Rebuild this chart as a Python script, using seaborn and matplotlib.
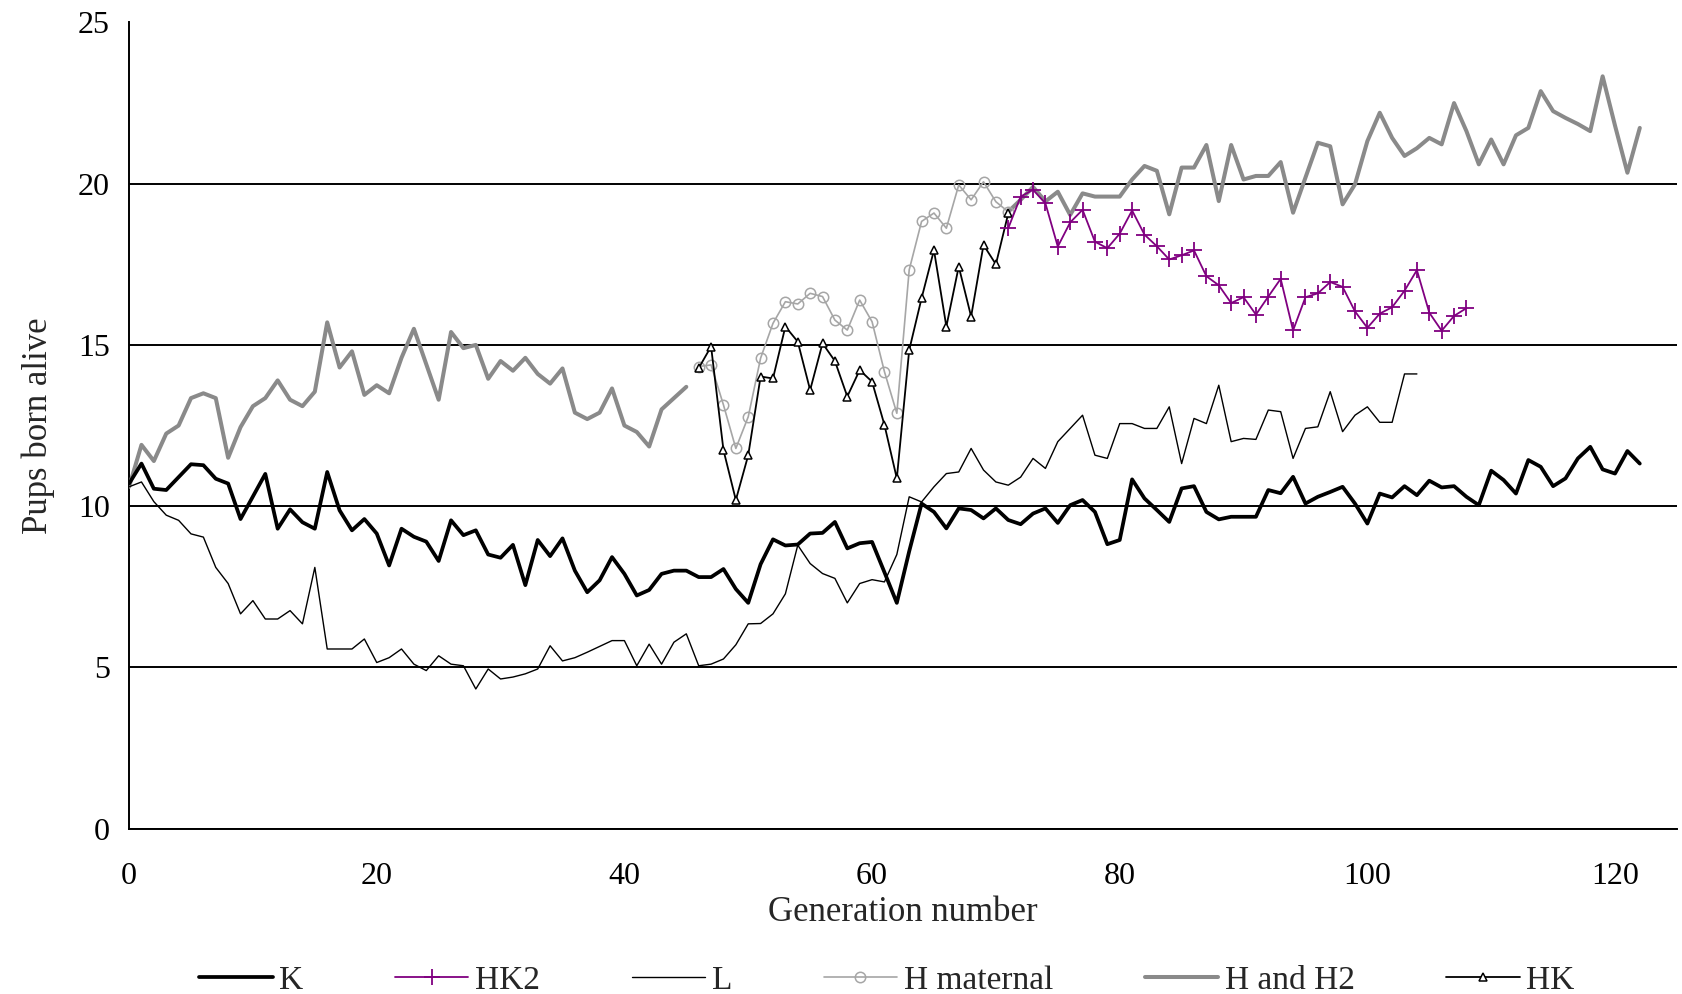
import numpy as np
import pandas as pd
import matplotlib
matplotlib.use("Agg")
import matplotlib.pyplot as plt
import seaborn as sns

# === Data (pups born alive per generation) ===
k_gen_start, l_gen_start = 0, 0
k_vals = [10.7, 11.32, 10.54, 10.5, 10.9, 11.3, 11.27, 10.85, 10.7, 9.6,
          10.3, 11.0, 9.3, 9.9, 9.5, 9.3, 11.06, 9.87, 9.25, 9.6,
          9.15, 8.16, 9.3, 9.05, 8.9, 8.3, 9.56, 9.1, 9.25, 8.5,
          8.4, 8.8, 7.55, 8.95, 8.45, 9.0, 8.0, 7.33, 7.7, 8.42,
          7.9, 7.23, 7.4, 7.9, 8.0, 8.0, 7.8, 7.8, 8.05, 7.43,
          7.0, 8.2, 8.97, 8.78, 8.81, 9.15, 9.17, 9.51, 8.69, 8.85,
          8.89, 7.95, 7.0, 8.6, 10.08, 9.82, 9.31, 9.93, 9.88, 9.62,
          9.93, 9.57, 9.44, 9.77, 9.93, 9.48, 10.03, 10.19, 9.82, 8.82,
          8.95, 10.83, 10.24, 9.88, 9.51, 10.55, 10.62, 9.82, 9.59, 9.67,
          9.67, 9.67, 10.5, 10.4, 10.91, 10.08, 10.29, 10.44, 10.6, 10.08,
          9.46, 10.39, 10.27, 10.62, 10.34, 10.79, 10.58, 10.62, 10.29, 10.03,
          11.1, 10.81, 10.39, 11.43, 11.22, 10.62, 10.86, 11.48, 11.84, 11.14,
          11.01, 11.71, 11.32]

l_vals = [10.6, 10.75, 10.14, 9.72, 9.56, 9.14, 9.04, 8.1, 7.6, 6.66,
          7.07, 6.5, 6.5, 6.76, 6.35, 8.1, 5.57, 5.57, 5.57, 5.88,
          5.15, 5.3, 5.57, 5.1, 4.9, 5.36, 5.1, 5.05, 4.33, 4.95,
          4.64, 4.7, 4.8, 4.95, 5.67, 5.2, 5.3, 5.47, 5.65, 5.83,
          5.83, 5.05, 5.72, 5.1, 5.78, 6.04, 5.05, 5.1, 5.26, 5.7,
          6.35, 6.36, 6.66, 7.28, 8.79, 8.22, 7.91, 7.76, 7.0, 7.6,
          7.72, 7.65, 8.5, 10.29, 10.13, 10.6, 11.01, 11.06, 11.79, 11.12,
          10.75, 10.65, 10.9, 11.48, 11.17, 12.0, 12.41, 12.82, 11.58, 11.48,
          12.56, 12.56, 12.41, 12.41, 13.08, 11.32, 12.72, 12.56, 13.75, 12.0,
          12.1, 12.07, 12.98, 12.93, 11.48, 12.41, 12.46, 13.55, 12.31, 12.82,
          13.08, 12.6, 12.6, 14.1, 14.1]

# H and H2 is split in two runs (gap while H maternal / HK were bred)
h_first_start = 0
h_first_vals = [10.6, 11.9, 11.4, 12.25, 12.5, 13.35, 13.5, 13.35, 11.5, 12.45,
                13.1, 13.35, 13.9, 13.3, 13.1, 13.55, 15.7, 14.3, 14.8, 13.45,
                13.75, 13.5, 14.6, 15.5, 14.4, 13.3, 15.4, 14.9, 15.0, 13.95,
                14.5, 14.2, 14.6, 14.1, 13.8, 14.27, 12.9, 12.7, 12.9, 13.65,
                12.5, 12.3, 11.85, 13.0, 13.35, 13.7]
h_second_start = 71
h_second_vals = [19.13, 19.5, 19.9, 19.45, 19.75, 19.03, 19.7, 19.6, 19.6, 19.6,
                 20.13, 20.55, 20.4, 19.05, 20.5, 20.5, 21.2, 19.46, 21.2, 20.13,
                 20.24, 20.24, 20.67, 19.1, 20.19, 21.27, 21.16, 19.36, 19.98, 21.32,
                 22.2, 21.42, 20.86, 21.1, 21.42, 21.22, 22.5, 21.63, 20.6, 21.37,
                 20.6, 21.5, 21.73, 22.87, 22.25, 22.04, 21.85, 21.63, 23.33, 21.8,
                 20.34, 21.73]

hmat_start = 46
hmat_vals = [14.33, 14.38, 13.14, 11.79, 12.77, 14.59, 15.67, 16.34, 16.27, 16.6,
             16.5, 15.77, 15.46, 16.39, 15.72, 14.17, 12.88, 17.33, 18.83, 19.09,
             18.62, 19.96, 19.5, 20.06, 19.44, 19.13]

hk_start = 46
hk_vals = [14.28, 14.95, 11.74, 10.19, 11.58, 14.02, 13.96, 15.57, 15.1, 13.6,
           15.05, 14.5, 13.4, 14.22, 13.86, 12.52, 10.86, 14.84, 16.45, 17.94,
           15.57, 17.43, 15.88, 18.1, 17.5, 19.08]

hk2_start = 71
hk2_vals = [18.62, 19.6, 19.81, 19.39, 18.05, 18.8, 19.19, 18.2, 18.0, 18.45,
            19.17, 18.42, 18.06, 17.65, 17.78, 17.93, 17.13, 16.85, 16.3, 16.48,
            15.94, 16.5, 17.05, 15.45, 16.48, 16.6, 16.95, 16.8, 16.04, 15.53,
            15.97, 16.17, 16.68, 17.32, 16.0, 15.44, 15.9, 16.14]

x_ticks = [0, 20, 40, 60, 80, 100, 120]
y_ticks = [0, 5, 10, 15, 20, 25]


def series(start, vals):
    return pd.DataFrame({'gen': np.arange(start, start + len(vals)), 'pups': vals})


# === Style ===
sns.set_style('white')
plt.rcParams['font.family'] = ['Liberation Serif', 'DejaVu Serif']

fig = plt.figure(figsize=(16.83, 9.94), dpi=100)
ax = fig.add_axes([0.0767, 0.1664, 0.9197, 0.811])

grey_thick = '#8a8a8a'
grey_thin = '#a6a6a6'
purple = '#800080'

# H and H2 (thick grey) - two runs
sns.lineplot(data=series(h_first_start, h_first_vals), x='gen', y='pups', ax=ax,
             color=grey_thick, lw=2.9, label='H and H2', zorder=3)
sns.lineplot(data=series(h_second_start, h_second_vals), x='gen', y='pups', ax=ax,
             color=grey_thick, lw=2.9, legend=False, zorder=3)

# H maternal (thin grey, open circles)
sns.lineplot(data=series(hmat_start, hmat_vals), x='gen', y='pups', ax=ax,
             color=grey_thin, lw=1.2, marker='o', markersize=7.5,
             markerfacecolor='none', markeredgecolor=grey_thin, markeredgewidth=1.1,
             label='H maternal', zorder=4)

# HK (black, open triangles)
sns.lineplot(data=series(hk_start, hk_vals), x='gen', y='pups', ax=ax,
             color='black', lw=1.3, marker='^', markersize=6,
             markerfacecolor='white', markeredgecolor='black', markeredgewidth=1.1,
             label='HK', zorder=5)

# HK2 (purple, plus)
sns.lineplot(data=series(hk2_start, hk2_vals), x='gen', y='pups', ax=ax,
             color=purple, lw=1.3, marker='+', markersize=11,
             markeredgecolor=purple, markeredgewidth=1.3,
             label='HK2', zorder=5)

# L (thin black)
sns.lineplot(data=series(l_gen_start, l_vals), x='gen', y='pups', ax=ax,
             color='black', lw=1.0, label='L', zorder=3)

# K (thick black)
sns.lineplot(data=series(k_gen_start, k_vals), x='gen', y='pups', ax=ax,
             color='black', lw=2.7, label='K', zorder=4)

# === Axes ===
ax.set_xlim(0, 125)
ax.set_ylim(0, 25)
ax.set_xticks(x_ticks)
ax.set_yticks(y_ticks)
ax.grid(axis='y', color='black', lw=1.4)
ax.get_ygridlines()[-1].set_visible(False)
ax.set_axisbelow(True)
for side in ['top', 'right']:
    ax.spines[side].set_visible(False)
for side in ['left', 'bottom']:
    ax.spines[side].set_color('black')
    ax.spines[side].set_linewidth(1.4)
ax.tick_params(axis='both', direction='out', length=8, width=1.4,
               colors='black', labelsize=23)
ax.tick_params(axis='x', pad=16)
ax.tick_params(axis='y', pad=6)
ax.set_xlabel('Generation number', fontsize=25, labelpad=4)
ax.set_ylabel('Pups born alive', fontsize=25, labelpad=16)

# === Legend (bottom row, order as in figure) ===
handles, labels = ax.get_legend_handles_labels()
order = ['K', 'HK2', 'L', 'H maternal', 'H and H2', 'HK']
lookup = dict(zip(labels, handles))
ax.get_legend().remove()
fig.legend([lookup[o] for o in order], order, loc='lower center',
           bbox_to_anchor=(0.527, -0.032), ncol=6, frameon=False,
           fontsize=24, handlelength=2.2, columnspacing=2.75, handletextpad=0.2)

plt.savefig('out.png', dpi=100)
